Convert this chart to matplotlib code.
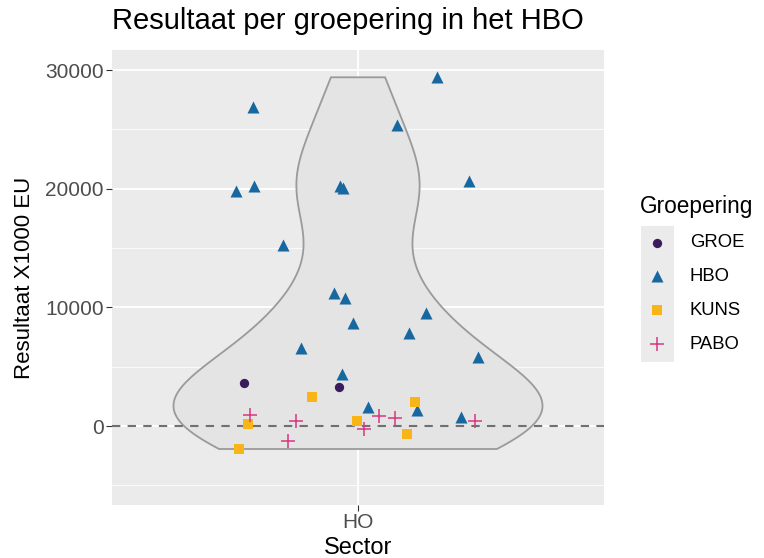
import matplotlib.pyplot as plt
import numpy as np
from matplotlib.patches import Rectangle

plt.rcParams['font.family'] = ['Liberation Sans', 'DejaVu Sans']

# data: jitter offset around the HO category and result (x1000 EU)
hbo_dx = [0.193, -0.256, 0.095, -0.298, -0.254, -0.044, -0.037, 0.271, -0.183, -0.059,
          -0.032, -0.012, 0.166, 0.124, -0.139, 0.293, -0.039, 0.024, 0.144, 0.251]
hbo_y = [29400, 26890, 25380, 19830, 20250, 20250, 20080, 20670, 15290, 11260,
         10760, 8660, 9500, 7820, 6550, 5800, 4370, 1600, 1340, 760]
groe_dx = [-0.278, -0.046]
groe_y = [3610, 3280]
kuns_dx = [-0.290, -0.268, -0.112, -0.002, 0.139, 0.120]
kuns_y = [-1930, 170, 2440, 420, 2020, -670]
pabo_dx = [-0.263, -0.171, -0.151, 0.015, 0.051, 0.090, 0.285]
pabo_y = [920, -1260, 420, -250, 840, 670, 420]

sectors = ['HO']
groups = ['GROE', 'HBO', 'KUNS', 'PABO']
colors = {'GROE': '#3b1c5a', 'HBO': '#1768a0', 'KUNS': '#f9b418', 'PABO': '#d8377f'}

fig = plt.figure(figsize=(7.64, 5.58), dpi=100)
ax = fig.add_axes([112/764, 1-505/558, 492/764, 455/558])
ax.set_facecolor('#ebebeb')

# violin (kde with R's nrd0 bandwidth, trimmed to data range)
all_y = np.array(hbo_y + groe_y + kuns_y + pabo_y, dtype=float)
n = len(all_y)
iqr = np.subtract(*np.percentile(all_y, [75, 25]))
bw = 0.9 * min(all_y.std(ddof=1), iqr / 1.34) * n ** -0.2
grid = np.linspace(all_y.min(), all_y.max(), 512)
dens = np.exp(-0.5 * ((grid[:, None] - all_y[None, :]) / bw) ** 2).sum(axis=1)
half = 0.45 * dens / dens.max()
vx = np.concatenate([1 - half, (1 + half)[::-1]])
vy = np.concatenate([grid, grid[::-1]])
ax.fill(vx, vy, facecolor='#e4e4e4', edgecolor='#9a9a9a', lw=1.3, zorder=2)

ax.axhline(0, color='#707070', ls=(0, (4, 3.5)), lw=1.5, zorder=3)

kw = dict(zorder=4, linewidths=0)
ax.scatter(1 + np.array(groe_dx), groe_y, marker='o', s=45, color=colors['GROE'], label='GROE', **kw)
ax.scatter(1 + np.array(hbo_dx), hbo_y, marker='^', s=75, color=colors['HBO'], label='HBO', **kw)
ax.scatter(1 + np.array(kuns_dx), kuns_y, marker='s', s=50, color=colors['KUNS'], label='KUNS', **kw)
ax.scatter(1 + np.array(pabo_dx), pabo_y, marker='+', s=110, color=colors['PABO'],
           label='PABO', zorder=4, linewidths=1.1)

ax.set_xlim(0.4, 1.6)
ax.set_ylim(-6650, 31700)
ax.set_xticks([1])
ax.set_xticklabels(sectors)
ax.set_yticks([0, 10000, 20000, 30000])
ax.set_yticks([-5000, 5000, 15000, 25000], minor=True)
ax.grid(True, which='major', color='white', lw=1.3)
ax.grid(True, which='minor', color='white', lw=0.6)
ax.set_axisbelow(True)
for s in ax.spines.values():
    s.set_visible(False)
ax.tick_params(which='major', length=4.5, color='#333333', labelsize=15, labelcolor='#4d4d4d', pad=1.5)
ax.tick_params(which='minor', length=0)

ax.set_xlabel('Sector', fontsize=17, labelpad=3)
ax.set_ylabel('Resultaat X1000 EU', fontsize=16, labelpad=7)
ax.set_title('Resultaat per groepering in het HBO', fontsize=21, loc='left', pad=15)

leg = fig.legend(loc='upper left', bbox_to_anchor=(623/764, 1-178/558), frameon=False,
                 title='Groepering', fontsize=13.3, title_fontsize=16.3,
                 handletextpad=0.87, labelspacing=0.91, alignment='left', handlelength=1.84)
fig.add_artist(Rectangle((641/764, 1-362/558), 33/764, 136/558, transform=fig.transFigure,
                         facecolor='#ebebeb', edgecolor='none', zorder=-1))

fig.savefig('out.png', dpi=100)
